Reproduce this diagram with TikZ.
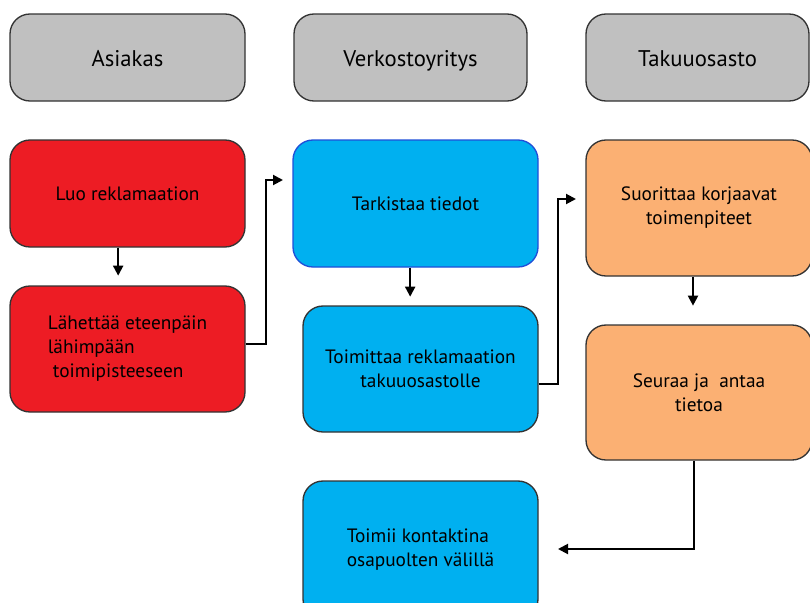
\documentclass[tikz,border=0pt]{standalone}
\usepackage{fontspec}
\setmainfont{PT Sans}
\usetikzlibrary{arrows.meta}
\definecolor{hdrgray}{HTML}{C0C0C0}
\definecolor{boxred}{HTML}{ED1C24}
\definecolor{boxblue}{HTML}{00B0F0}
\definecolor{boxorange}{HTML}{FBB073}
\definecolor{edgeblue}{HTML}{1F4FD8}
\definecolor{edgedark}{HTML}{333333}
\tikzset{
  rbox/.style={draw=edgedark, line width=1pt, rounded corners=15pt, inner sep=0pt, align=center, font=\fontsize{14.5}{18}\selectfont},
  hdr/.style={rbox, fill=hdrgray, font=\fontsize{17}{20}\selectfont, text height=14pt, text depth=1pt},
  redbox/.style={rbox, fill=boxred},
  bluebox/.style={rbox, fill=boxblue},
  orbox/.style={rbox, fill=boxorange},
  arr/.style={line width=1.5pt, -{Triangle[length=7.5pt,width=7.5pt]}},
}
\begin{document}
\begin{tikzpicture}[x=0.75pt,y=-0.75pt]
\useasboundingbox (0,0) rectangle (810,603);
\clip (0,0) rectangle (810,603);
% headers
\node[hdr, minimum width=176.25pt, minimum height=65.25pt] (h1) at (127.5,57.5) {Asiakas};
\node[hdr, minimum width=174.75pt, minimum height=65.25pt] (h2) at (410.5,57.5) {Verkostoyritys};
\node[hdr, minimum width=167.25pt, minimum height=65.25pt] (h3) at (697.5,57.5) {Takuuosasto};
% boxes
\node[redbox, minimum width=176.25pt, minimum height=80.25pt] (r1) at (127.5,193.5) {Luo reklamaation};
\node[redbox, minimum width=176.25pt, minimum height=94.5pt, align=left] (r2) at (127.5,349) {Lähettää eteenpäin\\lähimpään\\\ toimipisteeseen};
\node[bluebox, draw=edgeblue, minimum width=183.75pt, minimum height=95.25pt] (b1) at (415.5,203.5) {Tarkistaa tiedot};
\node[bluebox, minimum width=176.25pt, minimum height=94.5pt] (b2) at (420.5,369) {Toimittaa reklamaation\\takuuosastolle};
\node[bluebox, minimum width=176.25pt, minimum height=103.5pt, align=left] (b3) at (420.5,550) {Toimii kontaktina\\osapuolten välillä};
\node[orbox, minimum width=169.5pt, minimum height=102pt] (o1) at (699,208) {Suorittaa korjaavat\\toimenpiteet};
\node[orbox, minimum width=169.5pt, minimum height=101.25pt] (o2) at (699,392.5) {Seuraa ja\ \ antaa\\tietoa};
% connectors
\draw[arr] ([xshift=-7pt]r1.south) -- ++(0,28);
\draw[arr] ([xshift=-4pt]b1.south) -- ++(0,29);
\draw[arr] ([xshift=-4.5pt]o1.south) -- ++(0,29);
\coordinate (t1) at (283,180);
\coordinate (t2) at (576,199);
\coordinate (t3) at (558,549);
\draw[arr] ([yshift=3.75pt]r2.east) -- ++(20,0) |- (t1);
\draw[arr] ([yshift=-11.25pt]b2.east) -- ++(19,0) |- (t2);
\draw[arr] ([xshift=-3.75pt]o2.south) |- (t3);
\end{tikzpicture}
\end{document}
